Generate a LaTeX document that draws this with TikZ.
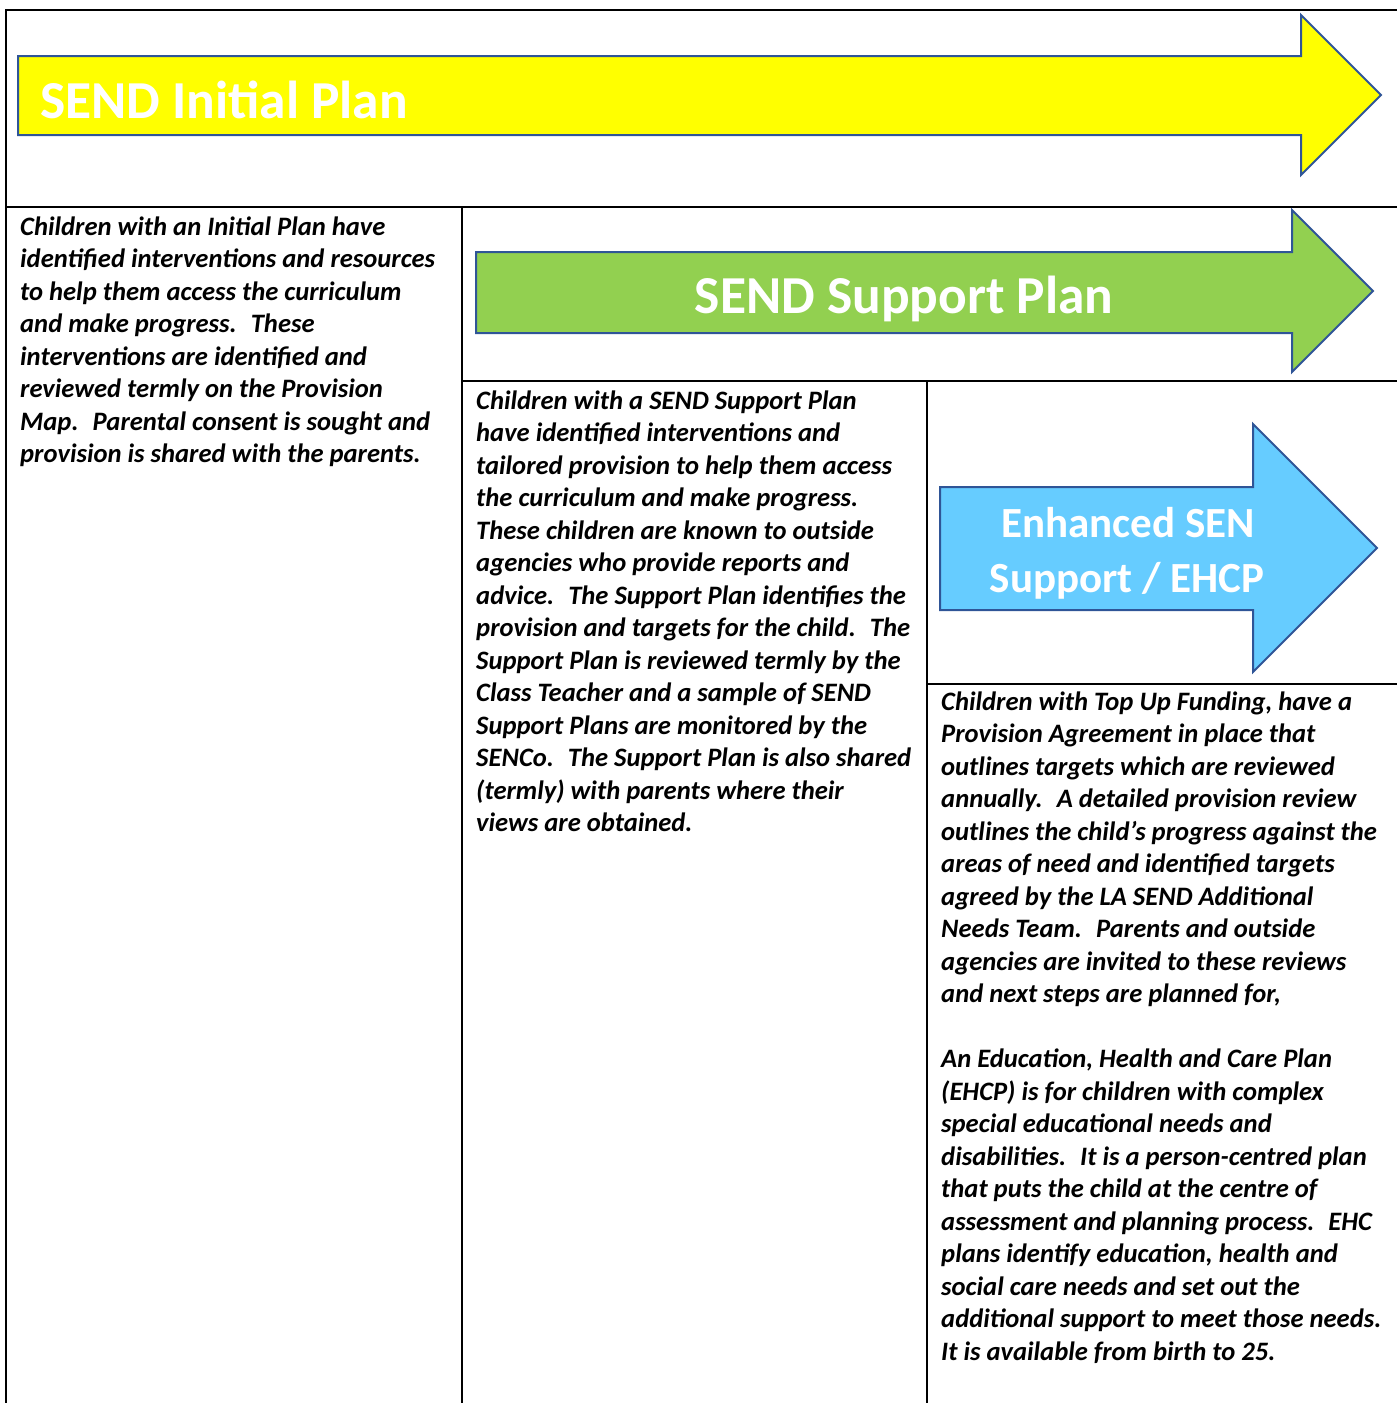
\documentclass[tikz,border=0pt]{standalone}
\usepackage{fontspec}
\setmainfont{Carlito}
\definecolor{arrowline}{HTML}{2F5597}
\definecolor{yel}{HTML}{FFFF00}
\definecolor{grn}{HTML}{92D050}
\definecolor{blu}{HTML}{66CCFF}
\tikzset{
  grid/.style={line width=2pt, black},
  bigarrow/.style={draw=arrowline, line width=2pt, line join=miter},
  body/.style={anchor=base west, align=left, inner sep=0pt, font=\fontsize{26.6}{32.5}\selectfont\bfseries\itshape},
  title/.style={inner sep=0pt, text=white, font=\bfseries}
}
\begin{document}
\begin{tikzpicture}[x=1pt,y=-1pt]
\useasboundingbox (0,0) rectangle (1397,1403);
% grid
\draw[grid] (1397,10) -- (6,10) -- (6,1403);
\draw[grid] (6,207) -- (1397,207);
\draw[grid] (462,207) -- (462,1403);
\draw[grid] (462,381) -- (1397,381);
\draw[grid] (927,381) -- (927,1403);
\draw[grid] (927,684) -- (1397,684);
% arrows
\draw[bigarrow, fill=yel] (18,56) -- (1301,56) -- (1301,15) -- (1381,95) -- (1301,175) -- (1301,135) -- (18,135) -- cycle;
\draw[bigarrow, fill=grn] (476,252) -- (1292,252) -- (1292,210) -- (1373,291) -- (1292,372) -- (1292,333) -- (476,333) -- cycle;
\draw[bigarrow, fill=blu] (940,487) -- (1253,487) -- (1253,424) -- (1377,548) -- (1253,672) -- (1253,610) -- (940,610) -- cycle;
% titles
\node[title, anchor=base west, font=\fontsize{53.4}{60}\selectfont\bfseries] (t1) at (40,118) {SEND Initial Plan};
\node[title, anchor=base, font=\fontsize{53.4}{55}\selectfont\bfseries] (t2) at (904,313) {SEND Support Plan};
\node[title, anchor=base, font=\fontsize{43}{55}\selectfont\bfseries] (t3a) at (1128,537) {Enhanced SEN};
\node[title, anchor=base, font=\fontsize{43}{55}\selectfont\bfseries] (t3b) at (1127,592) {Support / EHCP};
% body texts (anchored at the baseline of their last line)
\node[body] (b1) at (20,462.5) {Children with an Initial Plan have\\
identified interventions and resources\\
to help them access the curriculum\\
and make progress.~ These\\
interventions are identified and\\
reviewed termly on the Provision\\
Map.~ Parental consent is sought and\\
provision is shared with the parents.};
\node[body] (b2) at (476,831.5) {Children with a SEND Support Plan\\
have identified interventions and\\
tailored provision to help them access\\
the curriculum and make progress.\\
These children are known to outside\\
agencies who provide reports and\\
advice.~ The Support Plan identifies the\\
provision and targets for the child.~ The\\
Support Plan is reviewed termly by the\\
Class Teacher and a sample of SEND\\
Support Plans are monitored by the\\
SENCo.~ The Support Plan is also shared\\
(termly) with parents where their\\
views are obtained.};
\node[body] (b3) at (941,1360) {Children with Top Up Funding, have a\\
Provision Agreement in place that\\
outlines targets which are reviewed\\
annually.~ A detailed provision review\\
outlines the child’s progress against the\\
areas of need and identified targets\\
agreed by the LA SEND Additional\\
Needs Team.~ Parents and outside\\
agencies are invited to these reviews\\
and next steps are planned for,\\[32.5pt]
An Education, Health and Care Plan\\
(EHCP) is for children with complex\\
special educational needs and\\
disabilities.~ It is a person-centred plan\\
that puts the child at the centre of\\
assessment and planning process.~ EHC\\
plans identify education, health and\\
social care needs and set out the\\
additional support to meet those needs.\\
It is available from birth to 25.};
\end{tikzpicture}
\end{document}
